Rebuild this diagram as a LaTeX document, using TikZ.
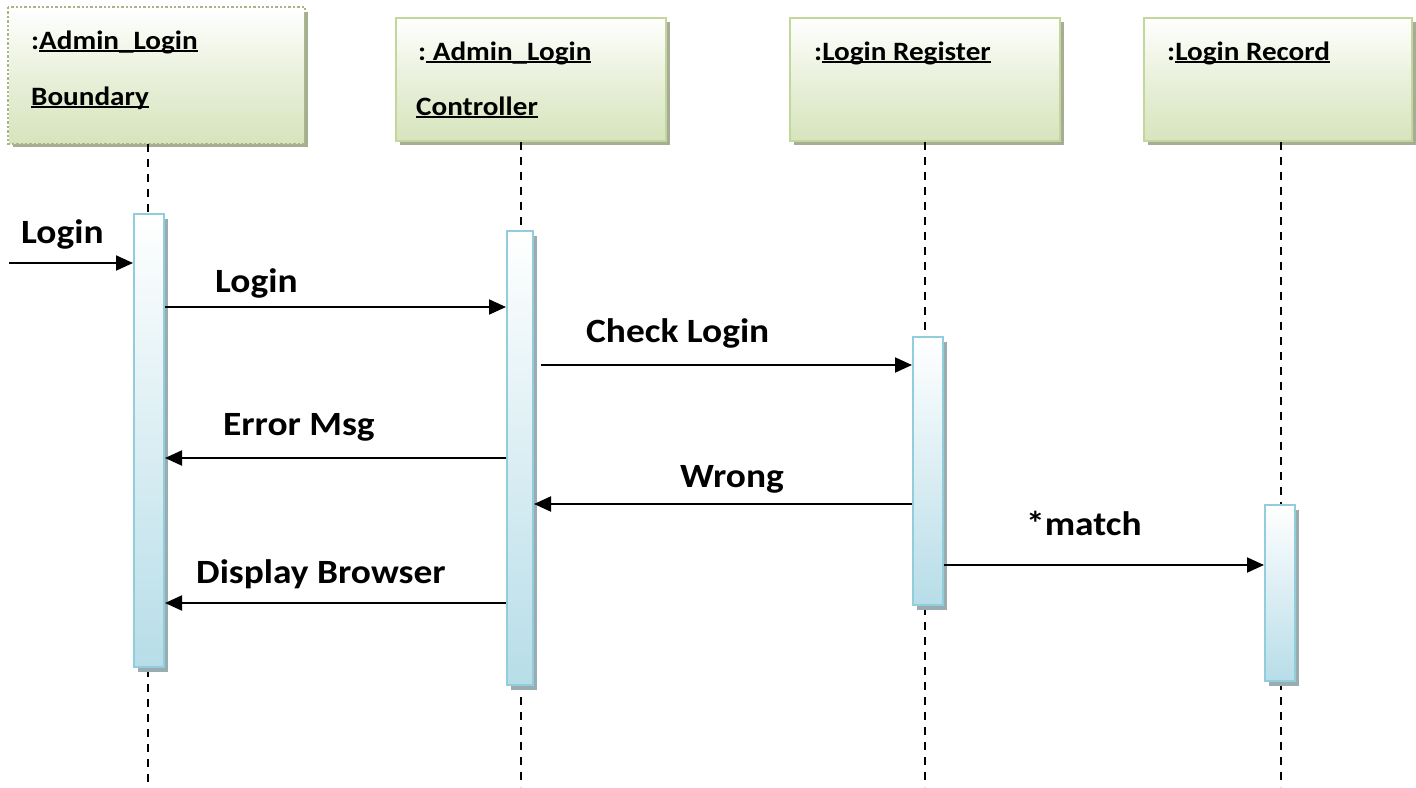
\documentclass[tikz,border=0pt]{standalone}
\usepackage{fontspec}
\usetikzlibrary{arrows.meta,shadows,calc}
\newfontfamily\hdrfont[FakeStretch=1.1]{Carlito}
\newfontfamily\msgfont[FakeStretch=1.1]{Carlito}
\definecolor{boxfill}{RGB}{215,228,189}
\definecolor{boxline}{RGB}{195,214,155}
\definecolor{boxshadow}{RGB}{166,173,148}
\definecolor{barfill}{RGB}{183,221,232}
\definecolor{barline}{RGB}{146,205,220}
\definecolor{barshadow}{RGB}{152,172,178}
\newcommand\ulbox[1]{\setbox0\hbox{#1}\rlap{\rule[-3.2pt]{\wd0}{2pt}}\box0}
\tikzset{
  objbox/.style={draw=boxline, line width=2pt, top color=white, bottom color=boxfill,
    middle color=boxfill!55, shading angle=0, inner sep=0pt, anchor=north west,
    drop shadow={shadow xshift=4pt, shadow yshift=-4pt, fill=boxshadow, opacity=1}},
  hdr/.style={font=\hdrfont\bfseries\fontsize{26.5}{31}\selectfont, anchor=base west, inner sep=0pt},
  msglbl/.style={font=\msgfont\bfseries\fontsize{34}{40}\selectfont, anchor=base west, inner sep=0pt},
  lifeline/.style={line width=1.6pt, dash pattern=on 8pt off 7pt},
  actbar/.style={draw=barline, line width=2pt, top color=white, bottom color=barfill,
    inner sep=0pt, anchor=north, minimum width=30pt,
    drop shadow={shadow xshift=4pt, shadow yshift=-5pt, fill=barshadow, opacity=1}},
  msg/.style={line width=2pt, -{Triangle[length=17pt,width=15pt]}},
}
\begin{document}
\begin{tikzpicture}[x=1pt,y=-1pt]
\useasboundingbox (0,0) rectangle (1416,787);
% object boxes
\node[objbox, draw=none, minimum width=295pt, minimum height=135pt] (b1) at (8,7) {};
\draw[boxline!85!black, line width=2.4pt, dotted] (b1.north west) rectangle (b1.south east);
\node[objbox, minimum width=270pt, minimum height=123pt] (b2) at (395,17) {};
\node[objbox, minimum width=270pt, minimum height=123pt] (b3) at (789,17) {};
\node[objbox, minimum width=268pt, minimum height=123pt] (b4) at (1143,17) {};
% header texts
\node[hdr] (t1a) at (31,49) {:\ulbox{Admin\_Login}};
\node[hdr] (t1b) at (31,105) {\ulbox{Boundary}};
\node[hdr] (t2a) at (418,60) {:\ulbox{ Admin\_Login}};
\node[hdr] (t2b) at (416,115) {\ulbox{Controller}};
\node[hdr] (t3a) at (814,60) {:\ulbox{Login Register}};
\node[hdr] (t4a) at (1167,60) {:\ulbox{Login Record}};
% lifeline ends
\coordinate (l1) at (148,787);
\coordinate (l2) at (521,787);
\coordinate (l3) at (925,787);
\coordinate (l4) at (1281,787);
\draw[lifeline] (b1.south -| l1) -- (l1);
\draw[lifeline] (b2.south -| l2) -- (l2);
\draw[lifeline] (b3.south -| l3) -- (l3);
\draw[lifeline] (b4.south -| l4) -- (l4);
% activation bars
\node[actbar, minimum height=453pt] (a1) at (149,213) {};
\node[actbar, minimum width=26pt, minimum height=454pt] (a2) at (520,230) {};
\node[actbar, minimum height=268pt] (a3) at (928,336) {};
\node[actbar, minimum height=176pt] (a4) at (1280,504) {};
% message heights
\coordinate (f0) at (9,263);
\coordinate (m1) at (0,307);
\coordinate (m2) at (0,365);
\coordinate (m3) at (0,458);
\coordinate (m4) at (0,504);
\coordinate (m5) at (0,565);
\coordinate (m6) at (0,603);
% messages
\draw[msg] (f0) -- (f0 -| a1.west);
\draw[msg] (a1.east |- m1) -- (a2.west |- m1);
\draw[msg] ([xshift=7pt]a2.east |- m2) -- (a3.west |- m2);
\draw[msg] (a2.west |- m3) -- (a1.east |- m3);
\draw[msg] (a3.west |- m4) -- (a2.east |- m4);
\draw[msg] (a3.east |- m5) -- (a4.west |- m5);
\draw[msg] (a2.west |- m6) -- (a1.east |- m6);
% message labels
\node[msglbl] (g0) at (21,243) {Login};
\node[msglbl] (g1) at (215,292) {Login};
\node[msglbl] (g2) at (586,342) {Check Login};
\node[msglbl] (g3) at (223,435) {Error Msg};
\node[msglbl] (g4) at (680,487) {Wrong};
\node[msglbl] (g5) at (1026,535) {*match};
\node[msglbl] (g6) at (196,583) {Display Browser};
\end{tikzpicture}
\end{document}
